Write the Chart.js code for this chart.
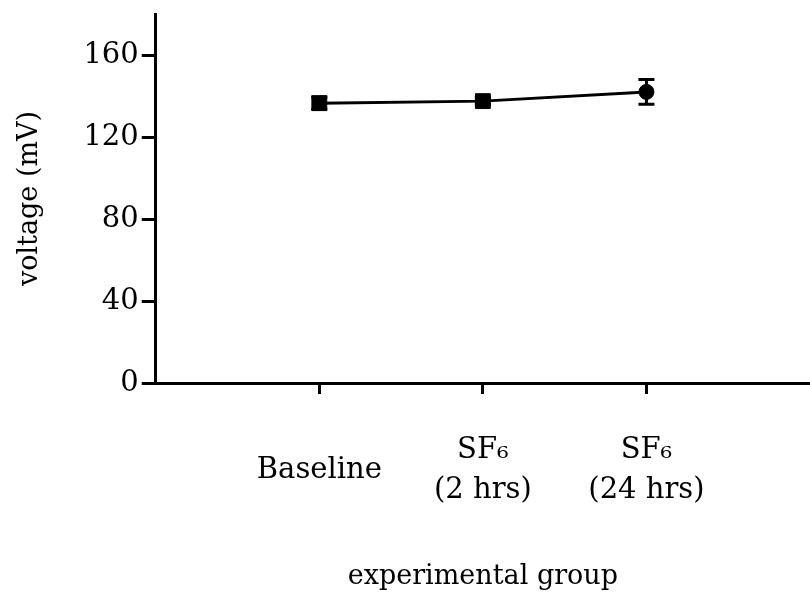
<!DOCTYPE html>
<html>
<head>
<meta charset="utf-8">
<title>voltage by experimental group</title>
<script src="https://cdn.jsdelivr.net/npm/chart.js@4"></script>
<style>
  html, body { margin: 0; padding: 0; background: #fff; overflow: hidden; }
  #wrap { width: 810px; height: 597px; }
  canvas { display: block; }
</style>
</head>
<body>
<div id="wrap"><canvas id="voltChart" width="810" height="597"></canvas></div>
<script>
// data
const groupLabels = [["Baseline"], ["SF\u2086", "(2 hrs)"], ["SF\u2086", "(24 hrs)"]];
const groupPos = [1, 2, 3];
const voltage = [136.5, 137.5, 142];
const voltageErr = [3, 1.5, 6];
const markerShapes = ["rect", "rect", "circle"];
const yTicks = [0, 40, 80, 120, 160];

const fontFamily = "'DejaVu Serif', 'Liberation Serif', serif";

// draw vertical error bars with caps, using the chart's own scales
const errorBarPlugin = {
  id: "errorBars",
  afterDatasetsDraw(chart) {
    const ctx = chart.ctx;
    const xs = chart.scales.x;
    const ys = chart.scales.y;
    ctx.save();
    ctx.strokeStyle = "#000";
    ctx.lineWidth = 3;
    voltage.forEach(function (v, i) {
      const x = xs.getPixelForValue(groupPos[i]);
      const top = ys.getPixelForValue(v + voltageErr[i]);
      const bot = ys.getPixelForValue(v - voltageErr[i]);
      ctx.beginPath();
      ctx.moveTo(x, top);
      ctx.lineTo(x, bot);
      ctx.moveTo(x - 8, top);
      ctx.lineTo(x + 8, top);
      ctx.moveTo(x - 8, bot);
      ctx.lineTo(x + 8, bot);
      ctx.stroke();
    });
    ctx.restore();
  },
};

const ctx = document.getElementById("voltChart").getContext("2d");

new Chart(ctx, {
  type: "line",
  data: {
    datasets: [
      {
        label: "voltage",
        data: groupPos.map((x, i) => ({ x: x, y: voltage[i] })),
        borderColor: "#000",
        borderWidth: 3,
        backgroundColor: "#000",
        pointStyle: markerShapes,
        pointRadius: [10.5, 10.5, 7.5],
        pointBackgroundColor: "#000",
        pointBorderColor: "#000",
        pointBorderWidth: 1,
        tension: 0,
        fill: false,
      },
    ],
  },
  options: {
    responsive: false,
    animation: false,
    layout: { autoPadding: false, padding: { top: 0, right: 0, bottom: 4, left: 14 } },
    plugins: {
      legend: { display: false },
      tooltip: { enabled: false },
    },
    scales: {
      x: {
        type: "linear",
        min: 0,
        max: 4,
        afterBuildTicks: function (axis) {
          axis.ticks = groupPos.map((v) => ({ value: v }));
        },
        afterFit: function (scale) {
          // keep the axis where the figure has it
          scale.height = 210;
          scale.paddingRight = 0;
        },
        ticks: {
          color: "#000",
          font: { family: fontFamily, size: 29, lineHeight: 1.4 },
          padding: 56,
          maxRotation: 0,
          crossAlign: "center",
          callback: function (value) {
            const i = groupPos.indexOf(value);
            return i >= 0 ? groupLabels[i] : "";
          },
        },
        grid: {
          drawOnChartArea: false,
          drawTicks: true,
          tickLength: 11,
          color: "#000",
          lineWidth: 3,
        },
        border: { display: true, color: "#000", width: 3 },
        title: {
          display: true,
          text: "experimental group",
          color: "#000",
          font: { family: fontFamily, size: 27 },
          padding: { top: 0, bottom: 0 },
        },
      },
      y: {
        min: 0,
        max: 180,
        afterBuildTicks: function (axis) {
          axis.ticks = yTicks.map((v) => ({ value: v }));
        },
        afterFit: function (scale) {
          scale.paddingTop = 14;
          scale.paddingBottom = 0;
        },
        ticks: {
          color: "#000",
          font: { family: fontFamily, size: 29 },
          padding: 3,
        },
        grid: {
          drawOnChartArea: false,
          drawTicks: true,
          tickLength: 14,
          color: "#000",
          lineWidth: 3,
        },
        border: { display: true, color: "#000", width: 3 },
        title: {
          display: true,
          text: "voltage (mV)",
          color: "#000",
          font: { family: fontFamily, size: 27 },
          padding: { top: 0, bottom: 34 },
        },
      },
    },
  },
  plugins: [errorBarPlugin],
});
</script>
</body>
</html>
